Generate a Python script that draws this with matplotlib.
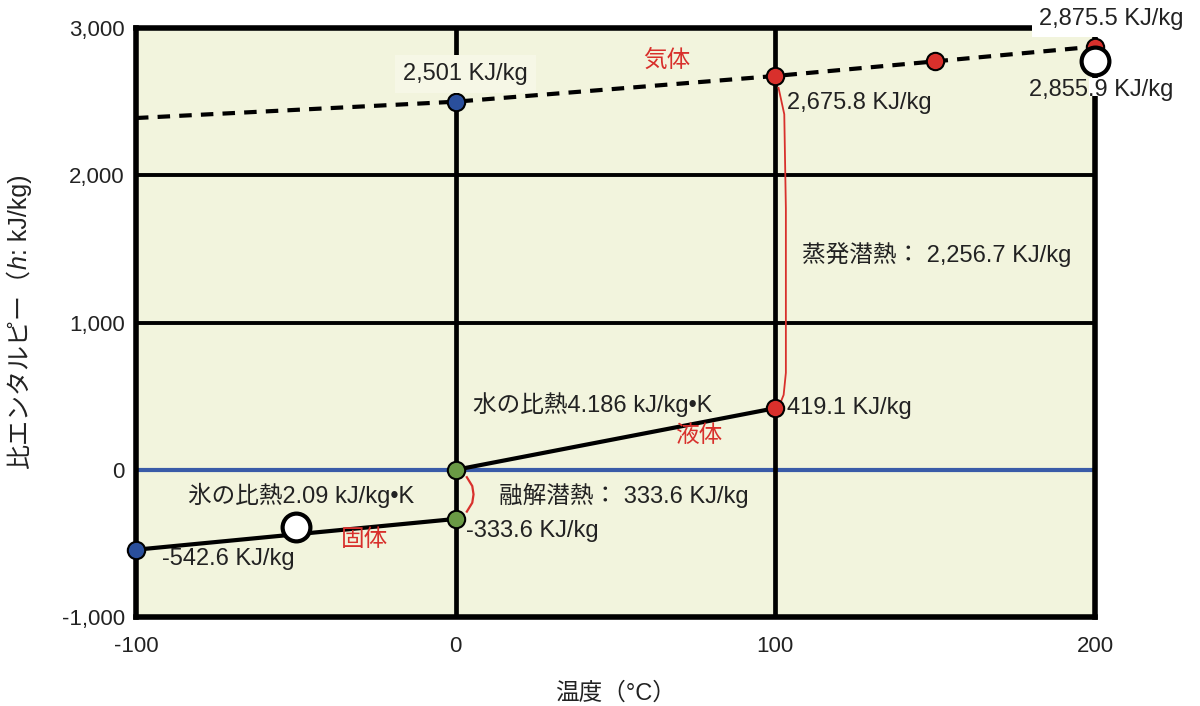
import matplotlib
matplotlib.use("Agg")
import matplotlib.pyplot as plt
from matplotlib.ticker import FuncFormatter
from matplotlib.patches import Rectangle

plt.rcParams['font.family'] = ['Liberation Sans', 'Noto Sans CJK JP', 'DejaVu Sans']
plt.rcParams['axes.unicode_minus'] = False

# ---- data ----
gas_t = [-100, 0, 100, 150, 200]
gas_h = [2390, 2501, 2675.8, 2775, 2875.5]
ice_t = [-100, 0]
ice_h = [-542.6, -333.6]
water_t = [0, 100]
water_h = [0, 419.1]
blue_t = [-100, 0]
blue_h = [-542.6, 2501]
green_t = [0, 0]
green_h = [0, -333.6]
red_t = [100, 100, 150, 200]
red_h = [419.1, 2675.8, 2775, 2875.5]
white_t = [-50, 200]
white_h = [-390, 2780]
fusion_heat = 333.6
evap_heat = 2256.7

xticks = [-100, 0, 100, 200]
yticks = [-1000, 0, 1000, 2000, 3000]

FACE = '#f2f4dd'
fig = plt.figure(figsize=(12, 7.06), dpi=100)
ax = fig.add_axes([0.1133, 0.126, 0.7992, 0.834])
ax.set_facecolor(FACE)
ax.set_xlim(-100, 200)
ax.set_ylim(-1000, 3000)

# grid-like lines
for y in [1000, 2000]:
    ax.axhline(y, color='black', lw=2.8, zorder=1)
ax.axhline(0, color='#3a5ba8', lw=3, zorder=1)
for x in [0, 100]:
    ax.axvline(x, color='black', lw=3.4, zorder=1)

for s in ax.spines.values():
    s.set_linewidth(4)
    s.set_color('black')

# lines
ax.plot(gas_t, gas_h, color='black', lw=3, ls=(0, (3, 2.2)), zorder=2)
ax.plot(ice_t, ice_h, color='black', lw=3, zorder=2)
ax.plot(water_t, water_h, color='black', lw=3, zorder=2)

# points
mk = dict(marker='o', ls='none', ms=12.5, mec='black', mew=1.5, zorder=4, clip_on=False)
ax.plot(blue_t, blue_h, mfc='#2a4f9c', **mk)
ax.plot(green_t, green_h, mfc='#6a9a45', **mk)
ax.plot(red_t, red_h, mfc='#d8302c', **mk)
ax.plot(white_t, white_h, marker='o', ls='none', ms=20, mfc='white', mec='black', mew=3,
        zorder=5, clip_on=False)

# braces
ax.plot([101, 102.8, 103.3, 103.3, 102.6, 101.3],
        [red_h[1] - 80, red_h[1] - 260, red_h[1] - 900, water_h[1] + 240, water_h[1] + 90, water_h[1] + 20],
        color='#d8302c', lw=1.3, zorder=3)
ax.plot([3.5, 5.2, 5.6, 5.2, 3.5],
        [green_h[0] - 50, green_h[0] - 110, (green_h[0] + green_h[1]) / 2, green_h[1] + 110, green_h[1] + 50],
        color='#d8302c', lw=1.6, zorder=3)

# hide right spine segment behind the 2,855.9 label
ax.add_patch(Rectangle((0.994, 0.885), 0.012, 0.03, transform=ax.transAxes,
                       fc='white', ec='none', zorder=7, clip_on=False))

FS = 17
tk = dict(fontsize=FS, color='#222222', zorder=8)
red = dict(fontsize=FS, color='#d8302c', zorder=8)
ax.text(3, 2690, '2,501 KJ/kg', ha='center', va='center',
        bbox=dict(boxstyle='square,pad=0.35', fc='#f6f7e6', ec='none'), **tk)
ax.text(66, 2778, '気体', ha='center', va='center', **red)
ax.text(103.5, 2492, '{:,.1f} KJ/kg'.format(red_h[1]), ha='left', va='center', **tk)
ax.text(205, 3060, '{:,.1f} KJ/kg'.format(gas_h[-1]), ha='center', va='center',
        bbox=dict(boxstyle='square,pad=0.3', fc='white', ec='none'), clip_on=False, **tk)
ax.text(202, 2582, '2,855.9 KJ/kg', ha='center', va='center', clip_on=False, **tk)
ax.text(108.5, 1460, '蒸発潜熱： {:,.1f} KJ/kg'.format(evap_heat), ha='left', va='center', **tk)
ax.text(5.5, 441, '水の比熱4.186 kJ/kg•K', ha='left', va='center', **tk)
ax.text(103.8, 420, '{:.1f} KJ/kg'.format(water_h[1]), ha='left', va='center', **tk)
ax.text(76, 228, '液体', ha='center', va='center', **red)
ax.text(13.5, -177, '融解潜熱： {:.1f} KJ/kg'.format(fusion_heat), ha='left', va='center', **tk)
ax.text(3.2, -414, '{:.1f} KJ/kg'.format(ice_h[1]), ha='left', va='center', **tk)
ax.text(-48.5, -177, '氷の比熱2.09 kJ/kg•K', ha='center', va='center', **tk)
ax.text(-28.5, -475, '固体', ha='center', va='center', **red)
ax.text(-92, -605, '{:.1f} KJ/kg'.format(ice_h[0]), ha='left', va='center', **tk)

ax.set_xticks(xticks)
ax.set_yticks(yticks)
ax.yaxis.set_major_formatter(FuncFormatter(lambda v, p: '{:,.0f}'.format(v)))
ax.tick_params(length=0, labelsize=16, labelcolor='#222222')
ax.tick_params(axis='y', pad=8)
ax.tick_params(axis='x', pad=14)

ax.set_xlabel('温度（°C）', fontsize=17, color='#222222', labelpad=18)

# y label composed of pieces so that h is italic
fig.canvas.draw()
r = fig.canvas.get_renderer()
parts = [('比エンタルピー（', 'normal'), ('h', 'italic'), (': kJ/kg)', 'normal')]
objs = []
xfig = 20 / 1200
for txt, st in parts:
    objs.append(fig.text(xfig, 0, txt, rotation=90, ha='center', va='bottom',
                         fontsize=18, style=st, color='#222222'))
heights = [o.get_window_extent(r).height for o in objs]
total = sum(heights)
ypix = (706 - 322) - total / 2
for o, h in zip(objs, heights):
    o.set_y(ypix / 706)
    ypix += h

fig.savefig('out.png', dpi=100, facecolor='white')
